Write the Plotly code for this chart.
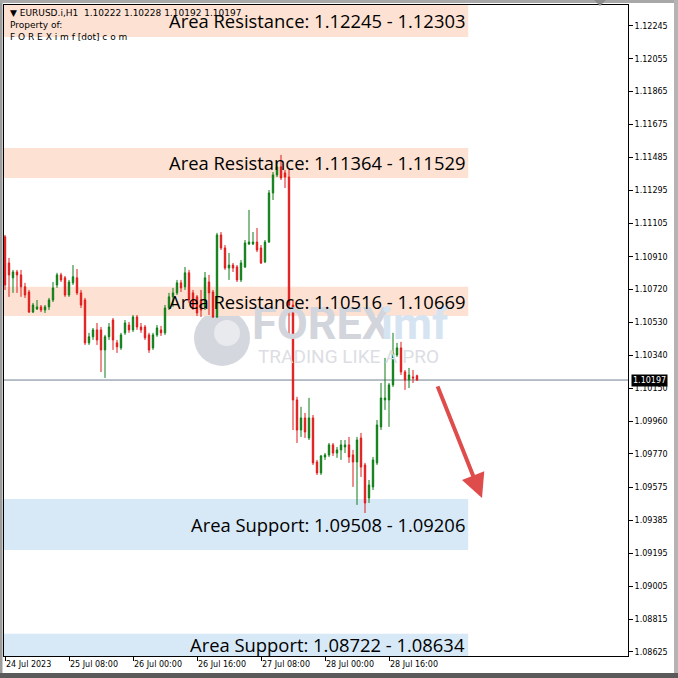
import plotly.graph_objects as go
import pandas as pd

# ---------------- data ----------------
times = pd.date_range("2023-07-24 16:00", periods=104, freq="h")

opens = [1.11025, 1.10874, 1.10788, 1.10822, 1.10805, 1.10736, 1.10706, 1.10590, 1.10608, 1.10620,
         1.10602, 1.10620, 1.10660, 1.10747, 1.10805, 1.10788, 1.10689, 1.10759, 1.10788, 1.10701,
         1.10660, 1.10412, 1.10447, 1.10487, 1.10487, 1.10371, 1.10447, 1.10544, 1.10412, 1.10383,
         1.10470, 1.10515, 1.10487, 1.10562, 1.10504, 1.10504, 1.10458, 1.10383, 1.10458, 1.10487,
         1.10470, 1.10614, 1.10678, 1.10701, 1.10759, 1.10736, 1.10817, 1.10701, 1.10678, 1.10660,
         1.10620, 1.10764, 1.10706, 1.10562, 1.11036, 1.10961, 1.10845, 1.10862, 1.10851, 1.10776,
         1.10851, 1.10984, 1.10984, 1.10995, 1.10961, 1.10880, 1.10995, 1.11279, 1.11383, 1.11430,
         1.11395, 1.11371, 1.10631, 1.10082, 1.09908, 1.09978, 1.09862, 1.09978, 1.09723, 1.09660,
         1.09752, 1.09764, 1.09822, 1.09775, 1.09793, 1.09810, 1.09822, 1.09764, 1.09723, 1.09862,
         1.09706, 1.09515, 1.09579, 1.09718, 1.09926, 1.10082, 1.10082, 1.10169, 1.10342, 1.10383,
         1.10244, 1.10197, 1.10215, 1.10222]
highs = [1.11036, 1.10903, 1.10834, 1.10834, 1.10834, 1.10759, 1.10718, 1.10643, 1.10660, 1.10631,
         1.10631, 1.10672, 1.10764, 1.10817, 1.10817, 1.10799, 1.10776, 1.10862, 1.10839, 1.10718,
         1.10672, 1.10470, 1.10498, 1.10527, 1.10504, 1.10458, 1.10527, 1.10556, 1.10429, 1.10470,
         1.10544, 1.10533, 1.10573, 1.10573, 1.10527, 1.10515, 1.10470, 1.10470, 1.10515, 1.10510,
         1.10631, 1.10701, 1.10730, 1.10776, 1.10776, 1.10851, 1.10834, 1.10718, 1.10689, 1.10718,
         1.10822, 1.10805, 1.10718, 1.11048, 1.11053, 1.10978, 1.10932, 1.10874, 1.10862, 1.10891,
         1.11007, 1.11181, 1.11053, 1.11076, 1.10978, 1.11007, 1.11296, 1.11400, 1.11453, 1.11499,
         1.11412, 1.11412, 1.10660, 1.10100, 1.10042, 1.10007, 1.10094, 1.09995, 1.09735, 1.09764,
         1.09775, 1.09833, 1.09833, 1.09810, 1.09850, 1.09850, 1.09868, 1.09793, 1.09868, 1.09891,
         1.09718, 1.09619, 1.09752, 1.09966, 1.10180, 1.10325, 1.10180, 1.10470, 1.10412, 1.10418,
         1.10255, 1.10267, 1.10255, 1.10228]
lows = [1.10718, 1.10678, 1.10701, 1.10701, 1.10678, 1.10672, 1.10585, 1.10585, 1.10602, 1.10590,
        1.10585, 1.10602, 1.10648, 1.10730, 1.10764, 1.10678, 1.10678, 1.10747, 1.10689, 1.10614,
        1.10400, 1.10400, 1.10429, 1.10400, 1.10243, 1.10209, 1.10429, 1.10371, 1.10354, 1.10371,
        1.10458, 1.10470, 1.10475, 1.10487, 1.10470, 1.10429, 1.10354, 1.10371, 1.10447, 1.10452,
        1.10458, 1.10602, 1.10620, 1.10689, 1.10706, 1.10718, 1.10643, 1.10602, 1.10567, 1.10562,
        1.10602, 1.10573, 1.10556, 1.10556, 1.10949, 1.10834, 1.10776, 1.10822, 1.10764, 1.10764,
        1.10845, 1.10978, 1.10978, 1.10937, 1.10868, 1.10874, 1.10990, 1.11238, 1.11371, 1.11354,
        1.11308, 1.10458, 1.09908, 1.09833, 1.09868, 1.09862, 1.09850, 1.09706, 1.09648, 1.09648,
        1.09735, 1.09752, 1.09758, 1.09747, 1.09735, 1.09775, 1.09718, 1.09579, 1.09475, 1.09637,
        1.09428, 1.09486, 1.09561, 1.09706, 1.09908, 1.10024, 1.09926, 1.10157, 1.10331, 1.10226,
        1.10140, 1.10151, 1.10180, 1.10192]
closes = [1.10747, 1.10805, 1.10822, 1.10805, 1.10736, 1.10689, 1.10590, 1.10631, 1.10620, 1.10602,
          1.10620, 1.10660, 1.10730, 1.10805, 1.10776, 1.10689, 1.10764, 1.10794, 1.10701, 1.10631,
          1.10412, 1.10447, 1.10487, 1.10429, 1.10371, 1.10447, 1.10504, 1.10429, 1.10389, 1.10458,
          1.10527, 1.10487, 1.10562, 1.10504, 1.10487, 1.10441, 1.10371, 1.10458, 1.10498, 1.10470,
          1.10614, 1.10678, 1.10701, 1.10759, 1.10730, 1.10817, 1.10660, 1.10620, 1.10585, 1.10602,
          1.10788, 1.10701, 1.10562, 1.11036, 1.10961, 1.10845, 1.10862, 1.10845, 1.10776, 1.10874,
          1.10990, 1.10995, 1.10995, 1.10949, 1.10874, 1.10995, 1.11279, 1.11383, 1.11430, 1.11366,
          1.11371, 1.10631, 1.10082, 1.09908, 1.09978, 1.09897, 1.09978, 1.09718, 1.09660, 1.09758,
          1.09764, 1.09822, 1.09775, 1.09793, 1.09822, 1.09822, 1.09752, 1.09723, 1.09850, 1.09694,
          1.09486, 1.09590, 1.09735, 1.09937, 1.10093, 1.10093, 1.10169, 1.10354, 1.10383, 1.10244,
          1.10197, 1.10226, 1.10209, 1.10197]

symbol = "EURUSD.i,H1"
last_price = 1.10197

y_tick_vals = [1.12245, 1.12055, 1.11865, 1.11675, 1.11485, 1.11295, 1.11105, 1.10910, 1.10720, 1.10530,
               1.10340, 1.10150, 1.09960, 1.09770, 1.09575, 1.09385, 1.09195, 1.09005, 1.08815, 1.08625]
x_tick_idx = [0, 16, 32, 48, 64, 80, 96]
x_tick_text = ["24 Jul 2023", "25 Jul 08:00", "26 Jul 00:00", "26 Jul 16:00",
               "27 Jul 08:00", "28 Jul 00:00", "28 Jul 16:00"]

zone_kind = ["res", "res", "res", "sup", "sup"]
zone_top = [1.12366, 1.11539, 1.10736, 1.09509, 1.08729]
zone_bottom = [1.12181, 1.11366, 1.10567, 1.09214, 1.08601]
zone_labels = ["Area Resistance: 1.12245 - 1.12303",
               "Area Resistance: 1.11364 - 1.11529",
               "Area Resistance: 1.10516 - 1.10669",
               "Area Support: 1.09508 - 1.09206",
               "Area Support: 1.08722 - 1.08634"]

Y_RANGE = [1.08601, 1.12366]
# ---------------- helpers ----------------
H = pd.Timedelta(hours=1)
t0 = times[0]
def tx(i):
    return t0 + i * H

X_RANGE = [tx(-0.25), tx(155.75)]

# plot box in pixels: x 4..628, y 5..656
def pxx(px):
    return (px - 4) / 624.0
def pxy(py):
    return (656 - py) / 651.0
def px2i(px):
    return (px - 5) / 4.0

RES_COL = "#fde2d3"
SUP_COL = "#d7e8f7"
GREEN = "#0e7d16"
RED = "#e01b1b"

fig = go.Figure()

# watermark (under candles)
fig.add_trace(go.Scatter(x=[tx(px2i(252))], y=[1.10501], mode="text", text=["FOREX"],
                         textposition="middle right",
                         textfont=dict(family="Roboto", size=45, color="#d3d5dc", weight="bold"),
                         hoverinfo="skip"))
fig.add_trace(go.Scatter(x=[tx(px2i(381))], y=[1.10501], mode="text", text=["imf"],
                         textposition="middle right",
                         textfont=dict(family="Roboto", size=45, color="#d6e4f1", weight="bold"),
                         hoverinfo="skip"))
fig.add_trace(go.Scatter(x=[tx(px2i(258))], y=[1.10325], mode="text", text=["TRADING LIKE A PRO"],
                         textposition="middle right",
                         textfont=dict(family="Roboto", size=19, color="#dcdee4"),
                         hoverinfo="skip"))

fig.add_trace(go.Candlestick(
    x=times, open=opens, high=highs, low=lows, close=closes,
    increasing=dict(line=dict(color=GREEN, width=1), fillcolor=GREEN),
    decreasing=dict(line=dict(color=RED, width=1), fillcolor=RED),
    whiskerwidth=0, hoverinfo="skip"))

shapes = []
# logo circle
shapes.append(dict(type="circle", xref="paper", yref="paper",
                   x0=pxx(194), x1=pxx(250), y0=pxy(366), y1=pxy(310),
                   fillcolor="#d5d7de", line=dict(width=0), layer="below"))
shapes.append(dict(type="circle", xref="paper", yref="paper",
                   x0=pxx(214), x1=pxx(240), y0=pxy(346), y1=pxy(320),
                   fillcolor="#e9eaee", line=dict(width=0), layer="below"))
# zones
for k, top, bot in zip(zone_kind, zone_top, zone_bottom):
    shapes.append(dict(type="rect", xref="x", yref="y", x0=X_RANGE[0], x1=tx(115.8),
                       y0=bot, y1=top, fillcolor=RES_COL if k == "res" else SUP_COL,
                       line=dict(width=0), layer="below"))
# current price line
shapes.append(dict(type="line", xref="paper", yref="y", x0=0, x1=1, y0=last_price, y1=last_price,
                   line=dict(color="#6f7f8f", width=1), layer="below"))
# window frame
shapes.append(dict(type="rect", xref="paper", yref="paper", x0=pxx(0), x1=pxx(2.5), y0=pxy(678), y1=pxy(0),
                   fillcolor="#9c9c9c", line=dict(width=0)))
shapes.append(dict(type="rect", xref="paper", yref="paper", x0=pxx(0), x1=pxx(678), y0=pxy(3), y1=pxy(0),
                   fillcolor="#a8a8a8", line=dict(width=0)))
shapes.append(dict(type="rect", xref="paper", yref="paper", x0=pxx(674), x1=pxx(678), y0=pxy(678), y1=pxy(0),
                   fillcolor="#b4b4b4", line=dict(width=0)))
shapes.append(dict(type="rect", xref="paper", yref="paper", x0=pxx(0), x1=pxx(678), y0=pxy(678), y1=pxy(673),
                   fillcolor="#5a5a5a", line=dict(width=0)))
# chart shift marker
shapes.append(dict(type="path", xref="paper", yref="paper",
                   path=f"M {pxx(594)} {pxy(0)} L {pxx(606)} {pxy(0)} L {pxx(600)} {pxy(6)} Z",
                   fillcolor="#8c8c8c", line=dict(width=0)))

annotations = []
label_font = dict(family="Open Sans", size=18.4, color="black")
for lab, top, bot in zip(zone_labels, zone_top, zone_bottom):
    annotations.append(dict(x=tx(px2i(467)), y=(top + bot) / 2, xref="x", yref="y", text=lab,
                            showarrow=False, xanchor="right", yanchor="middle", font=label_font))

small = dict(family="DejaVu Sans", size=9, color="black")
annotations.append(dict(x=pxx(8), y=pxy(13), xref="paper", yref="paper", showarrow=False,
                        xanchor="left", yanchor="middle", font=small,
                        text=f"▼ {symbol}  {opens[-1]:.5f} {highs[-1]:.5f} {lows[-1]:.5f} {closes[-1]:.5f}"))
annotations.append(dict(x=pxx(8), y=pxy(25), xref="paper", yref="paper", showarrow=False,
                        xanchor="left", yanchor="middle", font=small, text="Property of:"))
annotations.append(dict(x=pxx(8), y=pxy(37), xref="paper", yref="paper", showarrow=False,
                        xanchor="left", yanchor="middle", font=small,
                        text="F O R E X i m f [dot] c o m"))
# last price label
annotations.append(dict(x=1, y=last_price, xref="paper", yref="y", showarrow=False,
                        xanchor="left", yanchor="middle", xshift=3,
                        text=f"{last_price:.5f}", bgcolor="black", borderpad=1,
                        font=dict(family="DejaVu Sans", size=8, color="white")))
# red arrow
annotations.append(dict(x=tx(px2i(482)), y=1.09515, ax=tx(px2i(437)), ay=1.10169, xref="x", yref="y",
                        axref="x", ayref="y", showarrow=True, arrowhead=2, arrowsize=1.2,
                        arrowwidth=4, arrowcolor="#df4c4c", text=""))

tickfont = dict(family="DejaVu Sans", size=8, color="black")
fig.update_layout(
    width=678, height=678,
    margin=dict(l=4, r=50, t=5, b=22),
    paper_bgcolor="white", plot_bgcolor="white",
    showlegend=False, boxgap=0.5,
    shapes=shapes, annotations=annotations,
    xaxis=dict(type="date", range=X_RANGE, tickvals=[times[i] for i in x_tick_idx],
               ticktext=x_tick_text, ticks="outside", ticklen=4, tickcolor="black",
               showline=True, linecolor="black", linewidth=1, mirror=True,
               showgrid=False, zeroline=False, rangeslider=dict(visible=False),
               tickfont=tickfont, ticklabelposition="outside right", automargin=False,
               fixedrange=True),
    yaxis=dict(side="right", range=Y_RANGE, tickvals=y_tick_vals,
               ticktext=[f"{v:.5f}" for v in y_tick_vals], ticks="outside", ticklen=4,
               tickcolor="black", showline=True, linecolor="black", linewidth=1, mirror=True,
               showgrid=False, zeroline=False, tickfont=tickfont, automargin=False,
               fixedrange=True),
)

fig.write_html("out.html", config={"displayModeBar": False},
               post_script="document.body.style.margin='0px';")
